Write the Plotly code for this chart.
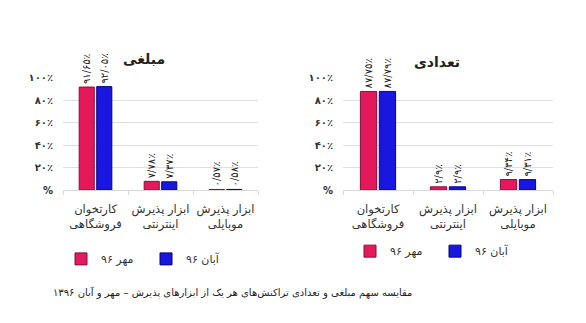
import plotly.graph_objects as go

categories = ["کارتخوان<br>فروشگاهی", "ابزار پذیرش<br>اینترنتی", "ابزار پذیرش<br>موبایلی"]
series_names = ["مهر ۹۶", "آبان ۹۶"]
amount_mehr = [91.65, 7.78, 0.57]
amount_aban = [92.05, 7.37, 0.58]
count_mehr = [87.75, 2.9, 9.34]
count_aban = [87.79, 2.9, 9.31]
ytick_vals = [0, 20, 40, 60, 80, 100]
ytick_text = ["%", "۲۰٪", "۴۰٪", "۶۰٪", "۸۰٪", "۱۰۰٪"]
title_left = "مبلغی"
title_right = "تعدادی"
caption = "مقایسه سهم مبلغی و تعدادی تراکنش‌های هر یک از ابزارهای پذیرش – مهر و آبان ۱۳۹۶"

colors = ["#E3195C", "#1717DF"]
borders = ["#8A0E3A", "#05057E"]

FONT = "DejaVu Sans"
W, H = 586, 323

def fa(v):
    s = "{:g}".format(v).replace(".", "/")
    return s.translate(str.maketrans("0123456789", "۰۱۲۳۴۵۶۷۸۹")) + "٪"

fig = go.Figure()

def add_pair(vals_list, xa, ya, legend):
    for i, vals in enumerate(vals_list):
        fig.add_trace(go.Bar(
            x=categories, y=vals, name=series_names[i],
            marker=dict(color=colors[i], line=dict(color=borders[i], width=1)),
            text=[fa(v) for v in vals], textposition="outside", textangle=-90,
            textfont=dict(family=FONT, size=10, color="#222"),
            constraintext="none", cliponaxis=False,
            xaxis=xa, yaxis=ya, legend=legend,
        ))

add_pair([amount_mehr, amount_aban], "x", "y", "legend")
add_pair([count_mehr, count_aban], "x2", "y2", "legend2")

ydom = [1 - 191 / H, 1 - 75 / H]
xcommon = dict(showline=True, linecolor="#d9d9d9", ticks="outside", tickson="boundaries",
               ticklen=4, tickcolor="#d9d9d9", showgrid=False, ticklabelstandoff=8,
               tickangle=0,
               tickfont=dict(family=FONT, size=11.5, color="#333"))
ycommon = dict(range=[0, 100], tickvals=ytick_vals, ticktext=ytick_text,
               showgrid=True, gridcolor="#e0e0e0", gridwidth=1, zeroline=False, showline=False,
               ticklabelstandoff=9,
               tickfont=dict(family=FONT, size=10, color="#333", weight="bold"), ticks="")

leg = dict(orientation="h", xanchor="center", yanchor="middle", itemwidth=30,
           entrywidth=40,
           font=dict(family=FONT, size=11, color="#333"), bgcolor="rgba(0,0,0,0)",
           tracegroupgap=0)

fig.update_layout(
    width=W, height=H, margin=dict(l=0, r=0, t=0, b=0),
    paper_bgcolor="white", plot_bgcolor="white",
    barmode="group", bargap=0.46, bargroupgap=0.14,
    xaxis=dict(domain=[63 / W, 258 / W], anchor="y", **xcommon),
    yaxis=dict(domain=ydom, anchor="x", **ycommon),
    xaxis2=dict(domain=[343 / W, 553 / W], anchor="y2", **xcommon),
    yaxis2=dict(domain=ydom, anchor="x2", **ycommon),
    legend=dict(x=146 / W, y=1 - 262 / H, **leg),
    legend2=dict(x=435 / W, y=1 - 254 / H, **leg),
    showlegend=True,
    font=dict(family=FONT),
)

fig.add_annotation(text=title_left, x=144 / W, y=1 - 45 / H, xref="paper", yref="paper",
                   xanchor="center", showarrow=False,
                   font=dict(family=FONT, size=14, color="#222", weight="bold"))
fig.add_annotation(text=title_right, x=437 / W, y=1 - 48 / H, xref="paper", yref="paper",
                   xanchor="center", showarrow=False,
                   font=dict(family=FONT, size=14, color="#222", weight="bold"))
fig.add_annotation(text=caption, x=233 / W, y=1 - 305 / H, xref="paper", yref="paper",
                   showarrow=False, font=dict(family=FONT, size=10, color="#222"))

fig.write_html("out.html")
